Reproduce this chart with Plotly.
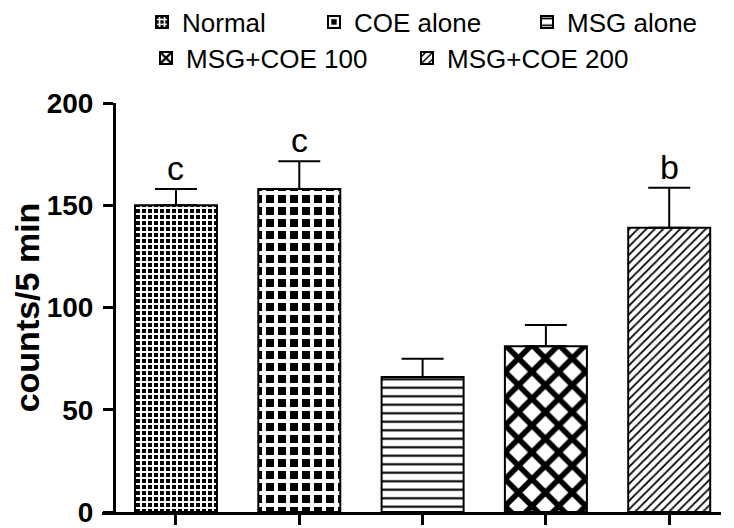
import plotly.graph_objects as go

groups = ["Normal", "COE alone", "MSG alone", "MSG+COE 100", "MSG+COE 200"]
means = [150, 158, 66, 81, 139]
sem = [8, 13.5, 9, 10.5, 19.5]
letters = ["c", "c", "", "", "b"]

# pattern per group (checkers faked with an inverted "+" grid)
patterns = [
    dict(shape="+", fgcolor="white", bgcolor="black", size=6, solidity=0.556, fgopacity=1),
    dict(shape="+", fgcolor="white", bgcolor="black", size=12, solidity=0.556, fgopacity=1),
    dict(shape="-", fgcolor="black", bgcolor="white", size=8.5, solidity=0.25, fgopacity=1),
    dict(shape="x", fgcolor="black", bgcolor="white", size=19, solidity=0.5, fgopacity=1),
    dict(shape="/", fgcolor="black", bgcolor="white", size=6, solidity=0.3, fgopacity=1),
]
# one legend per entry so each can sit where the original has it
legend_names = ["legend", "legend2", "legend3", "legend4", "legend5"]
legend_x = [134, 306, 519, 138, 399]   # px from left of figure
legend_y = [14, 14, 14, 50, 50]        # px from top

# the page body adds an 8px margin, so the figure is shifted by 8px
W, H = 726, 520
FONT = "Arial, Liberation Sans, sans-serif"

fig = go.Figure()
for i, g in enumerate(groups):
    fig.add_trace(go.Bar(
        x=[g], y=[means[i]], name=g, width=0.665,
        marker=dict(color="white", line=dict(color="black", width=2), pattern=patterns[i]),
        error_y=dict(type="data", array=[sem[i]], arrayminus=[0], symmetric=False,
                     color="black", thickness=2, width=21),
        legend=legend_names[i],
    ))

for i, g in enumerate(groups):
    if letters[i]:
        fig.add_annotation(x=g, y=means[i] + sem[i], text=letters[i], showarrow=False,
                           yanchor="bottom", yshift=0, font=dict(size=34, color="black", family=FONT))

legends = {}
for i, name in enumerate(legend_names):
    legends[name] = dict(orientation="h", xref="container", yref="container",
                         x=legend_x[i] / W, y=1 - legend_y[i] / H,
                         xanchor="left", yanchor="middle",
                         font=dict(size=26), bgcolor="rgba(0,0,0,0)")

fig.update_layout(
    width=W, height=H,
    margin=dict(l=94, r=13, t=95, b=16, autoexpand=False),
    plot_bgcolor="white", paper_bgcolor="white",
    font=dict(family=FONT, color="black"),
    showlegend=True,
    xaxis=dict(range=[-0.6, 4.42], showline=True, linecolor="black", linewidth=3,
               ticks="outside", ticklen=10, tickwidth=3, tickcolor="black",
               showticklabels=False, showgrid=False, zeroline=False),
    yaxis=dict(range=[0, 200], tickvals=[0, 50, 100, 150, 200], showline=True,
               linecolor="black", linewidth=3, ticks="outside", ticklen=10, tickwidth=3,
               tickcolor="black", showgrid=False, zeroline=False,
               anchor="free", position=0.0194, automargin=False, ticklabelstandoff=4,
               ticklabeloverflow="allow",
               tickfont=dict(size=28, weight="bold"),
               title=dict(text="<b>counts/5 min</b>", font=dict(size=34), standoff=0)),
    **legends,
)

fig.write_html("out.html")
